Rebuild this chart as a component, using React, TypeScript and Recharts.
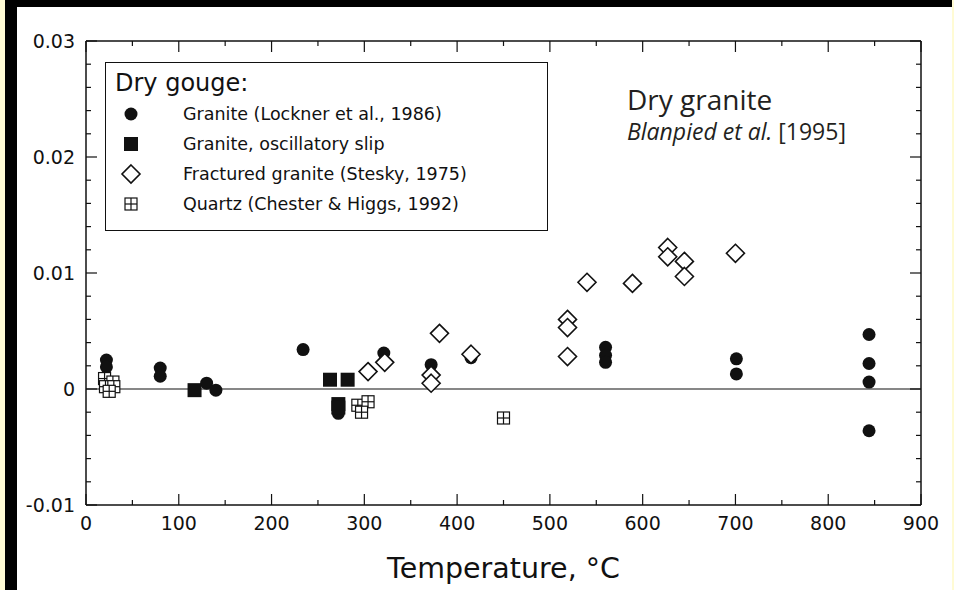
import { ScatterChart, Scatter, XAxis, YAxis, ReferenceLine } from 'recharts';

// Friction rate dependence (a - b) vs temperature
const lockner: [number, number][] = [
  [22, 0.0025], [22, 0.0019], [80, 0.0018], [80, 0.0011], [130, 0.0005], [140, -0.0001],
  [234, 0.0034], [272, -0.0021], [321, 0.0031], [372, 0.0021], [415, 0.0027],
  [560, 0.0036], [560, 0.0029], [560, 0.0023], [701, 0.0026], [701, 0.0013],
  [844, 0.0047], [844, 0.0022], [844, 0.0006], [844, -0.0036],
];
const oscillatory: [number, number][] = [
  [117, -0.0001], [263, 0.0008], [282, 0.0008], [272, -0.0013], [272, -0.0016],
];
const stesky: [number, number][] = [
  [304, 0.0015], [322, 0.0023], [372, 0.0012], [372, 0.0005], [381, 0.0048], [415, 0.003],
  [519, 0.006], [519, 0.0053], [519, 0.0028], [540, 0.0092], [589, 0.0091],
  [627, 0.0122], [627, 0.0114], [645, 0.011], [645, 0.0097], [700, 0.0117],
];
const quartz: [number, number][] = [
  [20, 0.0009], [29, 0.0006], [21, 0.0002], [30, 0.0002], [25, -0.0002],
  [293, -0.0014], [304, -0.0011], [297, -0.002], [450, -0.0025],
];

const xMajor = [0, 100, 200, 300, 400, 500, 600, 700, 800, 900];
const xMinor = [50, 150, 250, 350, 450, 550, 650, 750, 850];
const yMajor = [-0.01, 0, 0.01, 0.02, 0.03];
const yMinor = [
  -0.008, -0.006, -0.004, -0.002, 0.002, 0.004, 0.006, 0.008,
  0.012, 0.014, 0.016, 0.018, 0.022, 0.024, 0.026, 0.028,
];

const INK = '#111';
const FONT = '"DejaVu Sans", sans-serif';
const X_DOMAIN: [number, number] = [0, 900];
const Y_DOMAIN: [number, number] = [-0.01, 0.03];

// plot box: set by the chart margins / axis sizes below
const W = 954;
const H = 590;
const MARGIN = { top: 41, right: 33, bottom: 0, left: 0 };
const Y_AXIS_W = 86;
const X_AXIS_H = 85;
const PLOT_W = W - MARGIN.left - MARGIN.right - Y_AXIS_W;
const PLOT_H = H - MARGIN.top - MARGIN.bottom - X_AXIS_H;
const X_MARGIN = 12;
const Y_MARGIN = 11;
const MAJOR = 11;
const MINOR = 5;

const pts = (arr: [number, number][]) => arr.map(([t, m]) => ({ t, m }));

function FilledDot({ cx, cy }: any) {
  return <circle cx={cx} cy={cy} r={6.5} fill={INK} />;
}
function FilledSquare({ cx, cy }: any) {
  return <rect x={cx - 7} y={cy - 7} width={14} height={14} fill={INK} />;
}
function OpenDiamond({ cx, cy }: any) {
  return (
    <path
      d={`M${cx},${cy - 9}L${cx + 9},${cy}L${cx},${cy + 9}L${cx - 9},${cy}Z`}
      fill="#fff"
      stroke={INK}
      strokeWidth={1.6}
    />
  );
}
function CrossSquare({ cx, cy }: any) {
  return (
    <g stroke={INK} strokeWidth={1.2}>
      <rect x={cx - 6} y={cy - 6} width={12} height={12} fill="#fff" />
      <line x1={cx} y1={cy - 6} x2={cx} y2={cy + 6} />
      <line x1={cx - 6} y1={cy} x2={cx + 6} y2={cy} />
    </g>
  );
}

// tick marks point into the plot on all four sides; labels only on bottom/left
function XTick({ x, y, payload }: any) {
  const v = payload.value;
  const major = xMajor.includes(v);
  const len = major ? MAJOR : MINOR;
  const base = y - X_MARGIN;
  const top = base - PLOT_H;
  return (
    <g>
      <line x1={x} y1={base} x2={x} y2={base - len} stroke={INK} strokeWidth={1.2} />
      <line x1={x} y1={top} x2={x} y2={top + len} stroke={INK} strokeWidth={1.2} />
      {major && (
        <text x={x} y={y} dy="0.71em" textAnchor="middle" fill={INK} fontSize={19} fontFamily={FONT}>
          {v}
        </text>
      )}
    </g>
  );
}
function YTick({ x, y, payload }: any) {
  const v = payload.value;
  const major = yMajor.includes(v);
  const len = major ? MAJOR : MINOR;
  const base = x + Y_MARGIN;
  const right = base + PLOT_W;
  return (
    <g>
      <line x1={base} y1={y} x2={base + len} y2={y} stroke={INK} strokeWidth={1.2} />
      <line x1={right} y1={y} x2={right - len} y2={y} stroke={INK} strokeWidth={1.2} />
      {major && (
        <text x={x} y={y} dy="0.355em" textAnchor="end" fill={INK} fontSize={19} fontFamily={FONT}>
          {v === 0 ? '0' : v.toFixed(2)}
        </text>
      )}
    </g>
  );
}

const legendItems = [
  { name: 'Granite (Lockner et al., 1986)', Shape: FilledDot },
  { name: 'Granite, oscillatory slip', Shape: FilledSquare },
  { name: 'Fractured granite (Stesky, 1975)', Shape: OpenDiamond },
  { name: 'Quartz (Chester & Higgs, 1992)', Shape: CrossSquare },
];

export default function App() {
  return (
    <div style={{ position: 'absolute', left: 0, top: 0, width: W, height: H, background: '#fff', overflow: 'hidden' }}>
      {/* scan borders */}
      <div style={{ position: 'absolute', left: 0, top: 0, width: 5, height: H, background: '#fffbd4' }} />
      <div style={{ position: 'absolute', left: 5, top: 0, width: 12, height: H, background: '#000' }} />
      <div style={{ position: 'absolute', left: 5, top: 0, width: W - 5, height: 7, background: '#000' }} />
      <div style={{ position: 'absolute', right: 0, top: 0, width: 2, height: H, background: '#fffbd4' }} />

      <div style={{ position: 'absolute', left: 0, top: 0 }}>
        <ScatterChart width={W} height={H} margin={MARGIN}>
          <XAxis
            xAxisId="b"
            dataKey="t"
            type="number"
            domain={X_DOMAIN}
            allowDataOverflow
            ticks={[...xMajor, ...xMinor]}
            interval={0}
            height={X_AXIS_H}
            tickSize={0}
            tickMargin={X_MARGIN}
            tickLine={false}
            stroke={INK}
            strokeWidth={1.5}
            tick={<XTick />}
            label={{
              value: 'Temperature, °C',
              position: 'insideBottom',
              offset: 12,
              fill: INK,
              fontSize: 28.5,
              fontFamily: FONT,
            }}
          />
          <XAxis xAxisId="t" type="number" domain={X_DOMAIN} allowDataOverflow orientation="top" mirror
            height={1} tick={false} tickLine={false} stroke={INK} strokeWidth={1.5} />

          <YAxis
            yAxisId="l"
            dataKey="m"
            type="number"
            domain={Y_DOMAIN}
            allowDataOverflow
            ticks={[...yMajor, ...yMinor]}
            interval={0}
            width={Y_AXIS_W}
            tickSize={0}
            tickMargin={Y_MARGIN}
            tickLine={false}
            stroke={INK}
            strokeWidth={1.5}
            tick={<YTick />}
          />
          <YAxis yAxisId="r" type="number" domain={Y_DOMAIN} allowDataOverflow orientation="right" mirror
            width={1} tick={false} tickLine={false} stroke={INK} strokeWidth={1.5} />

          <ReferenceLine xAxisId="b" yAxisId="l" y={0} stroke={INK} strokeWidth={1.2} />

          <Scatter xAxisId="b" yAxisId="l" name={legendItems[0].name} data={pts(lockner)} shape={FilledDot} isAnimationActive={false} />
          <Scatter xAxisId="b" yAxisId="l" name={legendItems[1].name} data={pts(oscillatory)} shape={FilledSquare} isAnimationActive={false} />
          <Scatter xAxisId="b" yAxisId="l" name={legendItems[3].name} data={pts(quartz)} shape={CrossSquare} isAnimationActive={false} />
          <Scatter xAxisId="b" yAxisId="l" name={legendItems[2].name} data={pts(stesky)} shape={OpenDiamond} isAnimationActive={false} />
        </ScatterChart>
      </div>

      {/* legend box */}
      <div
        style={{
          position: 'absolute', left: 105, top: 62, width: 443, height: 169,
          border: `1.5px solid ${INK}`, boxSizing: 'border-box', background: '#fff',
          fontFamily: FONT, color: INK,
        }}
      >
        <div style={{ position: 'absolute', left: 9, top: 7, fontSize: 24, lineHeight: '26px', whiteSpace: 'nowrap' }}>
          Dry gouge:
        </div>
        {legendItems.map((it, i) => (
          <div key={it.name} style={{ position: 'absolute', left: 0, top: 38 + i * 30, height: 26, whiteSpace: 'nowrap' }}>
            <svg width={50} height={26} style={{ position: 'absolute', left: 0, top: 0 }}>
              <it.Shape cx={25} cy={13} />
            </svg>
            <span style={{ position: 'absolute', left: 77, top: 2, fontSize: 17.5, lineHeight: '22px' }}>{it.name}</span>
          </div>
        ))}
      </div>

      {/* annotation */}
      <div style={{ position: 'absolute', left: 627, top: 82, fontFamily: '"Open Sans", sans-serif', color: '#231f20', whiteSpace: 'nowrap' }}>
        <div style={{ fontSize: 28, lineHeight: '34px' }}>Dry granite</div>
        <div style={{ fontSize: 23, lineHeight: '30px' }}>
          <i>Blanpied et al.</i> [1995]
        </div>
      </div>
    </div>
  );
}
